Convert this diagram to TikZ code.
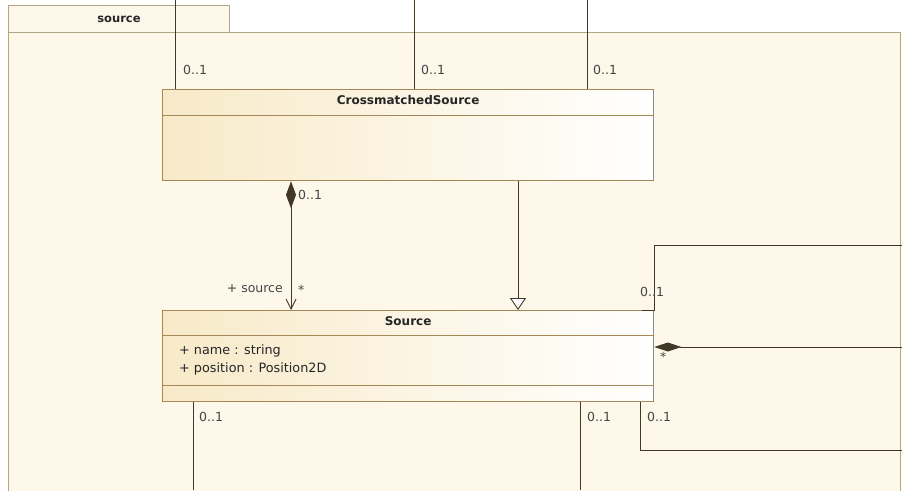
\documentclass[tikz,border=0pt]{standalone}
\usepackage{fontspec}
\setmainfont{DejaVu Sans}
\usetikzlibrary{arrows.meta}
\definecolor{pkgfill}{RGB}{254,248,234}
\definecolor{pkgline}{RGB}{178,166,134}
\definecolor{clsline}{RGB}{165,136,86}
\definecolor{clsfill}{RGB}{248,234,200}
\definecolor{assoc}{RGB}{66,56,40}
\definecolor{lbl}{RGB}{68,68,68}

\begin{document}
\begin{tikzpicture}[x=1pt, y=-1pt, font=\fontsize{12.5}{14}\selectfont,
  pkgtab/.style={draw=pkgline, fill=pkgfill, line width=1pt, anchor=north west,
    minimum width=221pt, minimum height=27pt, inner sep=0pt,
    font=\fontsize{11.5}{13}\selectfont\bfseries, text=black!85},
  cls/.style={draw=clsline, line width=1.3pt, left color=clsfill, right color=white,
    minimum width=491pt, minimum height=91pt, inner sep=0pt, anchor=north west},
  sep/.style={draw=clsline, line width=0.8pt},
  cname/.style={font=\fontsize{12}{14}\selectfont\bfseries, text=black!85,
    anchor=north, inner sep=0pt, yshift=-6pt},
  attr/.style={align=left, anchor=north west, inner sep=0pt,
    font=\fontsize{12.8}{18}\selectfont, text=black!85},
  mult/.style={text=lbl, inner sep=0pt, anchor=west},
  link/.style={draw=assoc, line width=0.9pt},
  comp/.style={link, {Diamond[length=27pt, width=10pt, fill=assoc]}-{Straight Barb[length=10pt, width=10pt]}},
  compR/.style={link, {Diamond[length=27pt, width=9pt, fill=assoc]}-},
  gen/.style={link, -{Triangle[open, length=12pt, width=16pt, fill=white]}}]
\useasboundingbox (0,0) rectangle (902,490);

% ---- package ----
\draw[pkgline, fill=pkgfill, line width=1pt] (8,32) rectangle (900,520);
\node[pkgtab] (pkg) at (8,5) {source};

% ---- classes ----
\node[cls] (cms) at (162,89) {};
\node[cname] at (cms.north) {CrossmatchedSource};
\draw[sep] ([yshift=-26pt]cms.north west) -- ([yshift=-26pt]cms.north east);

\node[cls] (src) at (162,310) {};
\node[cname] at (src.north) {Source};
\draw[sep] ([yshift=-25pt]src.north west) -- ([yshift=-25pt]src.north east);
\draw[sep] ([yshift=-75pt]src.north west) -- ([yshift=-75pt]src.north east);
\node[attr] (srcattr) at (179,345) {+ name : string\\+ position : Position2D};

% ---- free ends ----
\coordinate (upA) at (175,0);
\coordinate (upB) at (414,0);
\coordinate (upC) at (587,0);
\coordinate (dnA) at (193,490);
\coordinate (dnB) at (580,490);
\coordinate (rC)  at (654,245);
\coordinate (rTop) at (902,245);
\coordinate (rMid) at (902,347);
\coordinate (dC)  at (640,450);
\coordinate (rBot) at (902,450);

% ---- connectors ----
\draw[link] (upA) -- (upA |- cms.north);
\draw[link] (upB) -- (upB |- cms.north);
\draw[link] (upC) -- (upC |- cms.north);
\draw[comp] ([xshift=129pt]cms.south west) -- ([xshift=129pt]src.north west);
\draw[gen]  ([xshift=356pt]cms.south west) -- ([xshift=356pt]src.north west);
\draw[link] ([xshift=-12pt]src.north east) -- (rC |- src.north) -- (rC) -- (rTop);
\draw[compR] (src.east |- rMid) -- (rMid);
\draw[link] (dC |- src.south) -- (dC) -- (rBot);
\draw[link] (dnA |- src.south) -- (dnA);
\draw[link] (dnB |- src.south) -- (dnB);

% ---- multiplicities and roles ----
\node[mult] at (183,70) {0..1};
\node[mult] at (421,70) {0..1};
\node[mult] at (593,70) {0..1};
\node[mult] at (298,195) {0..1};
\node[mult, anchor=east] at (283,289) {+ source};
\node[mult] at (298,290) {*};
\node[mult] at (640,292) {0..1};
\node[mult] at (660,357) {*};
\node[mult] at (199,417) {0..1};
\node[mult] at (587,417) {0..1};
\node[mult] at (647,417) {0..1};
\end{tikzpicture}
\end{document}
